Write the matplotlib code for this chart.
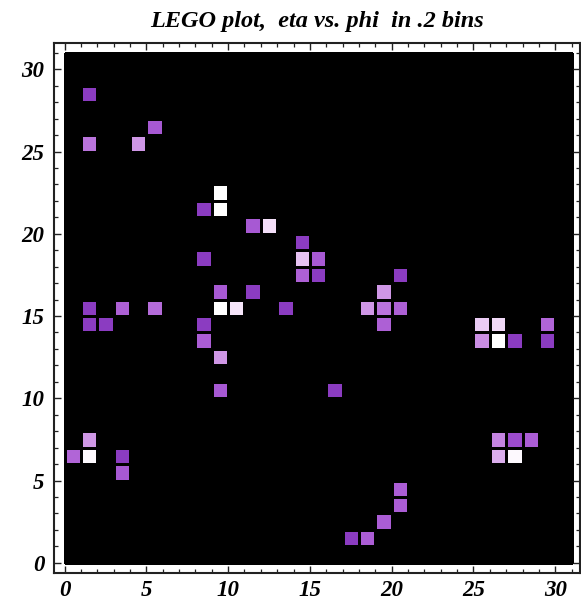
import numpy as np
import matplotlib
matplotlib.use("Agg")
import matplotlib.pyplot as plt
from matplotlib.colors import LinearSegmentedColormap

# Occupied bins: eta bin index, phi bin index, deposited energy (arb. units)
eta_bins = [1, 1, 4, 5, 9, 9, 8, 11, 12, 14, 14, 15, 14, 15, 8, 20, 9, 11, 19,
            1, 3, 5, 9, 10, 13, 18, 19, 20, 1, 2, 8, 19, 25, 26, 29, 8, 25, 26,
            27, 29, 9, 9, 16, 1, 0, 1, 3, 3, 26, 27, 28, 26, 27, 20, 20, 19, 17, 18]
phi_bins = [28, 25, 25, 26, 22, 21, 21, 20, 20, 19, 18, 18, 17, 17, 18, 17, 16, 16, 16,
            15, 15, 15, 15, 15, 15, 15, 15, 15, 14, 14, 14, 14, 14, 14, 14, 13, 13, 13,
            13, 13, 12, 10, 10, 7, 6, 6, 6, 5, 7, 7, 7, 6, 6, 4, 3, 2, 1, 1]
energy = [1.0, 3.0, 4.0, 2.0, 7.0, 7.0, 1.0, 2.0, 6.0, 1.0, 5.0, 2.0, 2.3, 1.0, 1.0, 1.0, 2.0, 1.0, 4.0,
          1.0, 2.3, 2.7, 7.0, 6.2, 1.0, 4.0, 3.0, 2.3, 1.0, 1.0, 1.0, 2.3, 5.3, 5.8, 2.5, 2.2, 3.8, 7.0,
          1.0, 1.0, 4.0, 2.0, 1.0, 4.0, 2.5, 6.8, 1.0, 2.0, 3.5, 1.5, 2.2, 4.5, 6.8, 2.2, 2.2, 2.2, 1.0, 2.2]

n_bins = 31
tick_values = [0, 5, 10, 15, 20, 25, 30]
title_text = "LEGO plot,  eta vs. phi  in .2 bins"

grid = np.zeros((n_bins, n_bins))
for ix, iy, e in zip(eta_bins, phi_bins, energy):
    grid[iy, ix] = e

cmap = LinearSegmentedColormap.from_list(
    "lego",
    ["#7a2db6", "#9f4ecf", "#b46ad9", "#c98ce3", "#e3bdf1", "#f3dcf8", "#ffffff"],
)
cmap.set_under("black")

fig = plt.figure(figsize=(5.81, 6.00), dpi=100)
ax = fig.add_axes([0.093, 0.045, 0.905, 0.884])

edges = np.arange(n_bins + 1)
ax.pcolormesh(edges, edges, grid, cmap=cmap, vmin=0.5, vmax=7.0,
              edgecolors="black", linewidth=0.9)

ax.set_xlim(-0.64, 31.5)
ax.set_ylim(-0.62, 31.62)

ax.set_xticks(tick_values)
ax.set_yticks(tick_values)
ax.set_xticks(np.arange(0, 32), minor=True)
ax.set_yticks(np.arange(0, 32), minor=True)
ax.tick_params(which="both", direction="in", top=True, right=True, color="#222222")
ax.tick_params(which="major", length=5, width=1.0)
ax.tick_params(axis="x", which="major", pad=5)
ax.tick_params(axis="y", which="major", pad=7)
ax.tick_params(which="minor", length=3, width=0.9)

label_font = dict(family="Liberation Serif", style="italic", weight="bold", size=16.5)
ax.set_xticklabels([str(t) for t in tick_values], **label_font)
ax.set_yticklabels([str(t) for t in tick_values], **label_font)

for side in ax.spines.values():
    side.set_linewidth(1.5)
    side.set_color("#222222")

ax.set_title(title_text, family="Liberation Serif", style="italic", weight="bold",
             size=17.5, pad=11)

fig.savefig("out.png", dpi=100)
